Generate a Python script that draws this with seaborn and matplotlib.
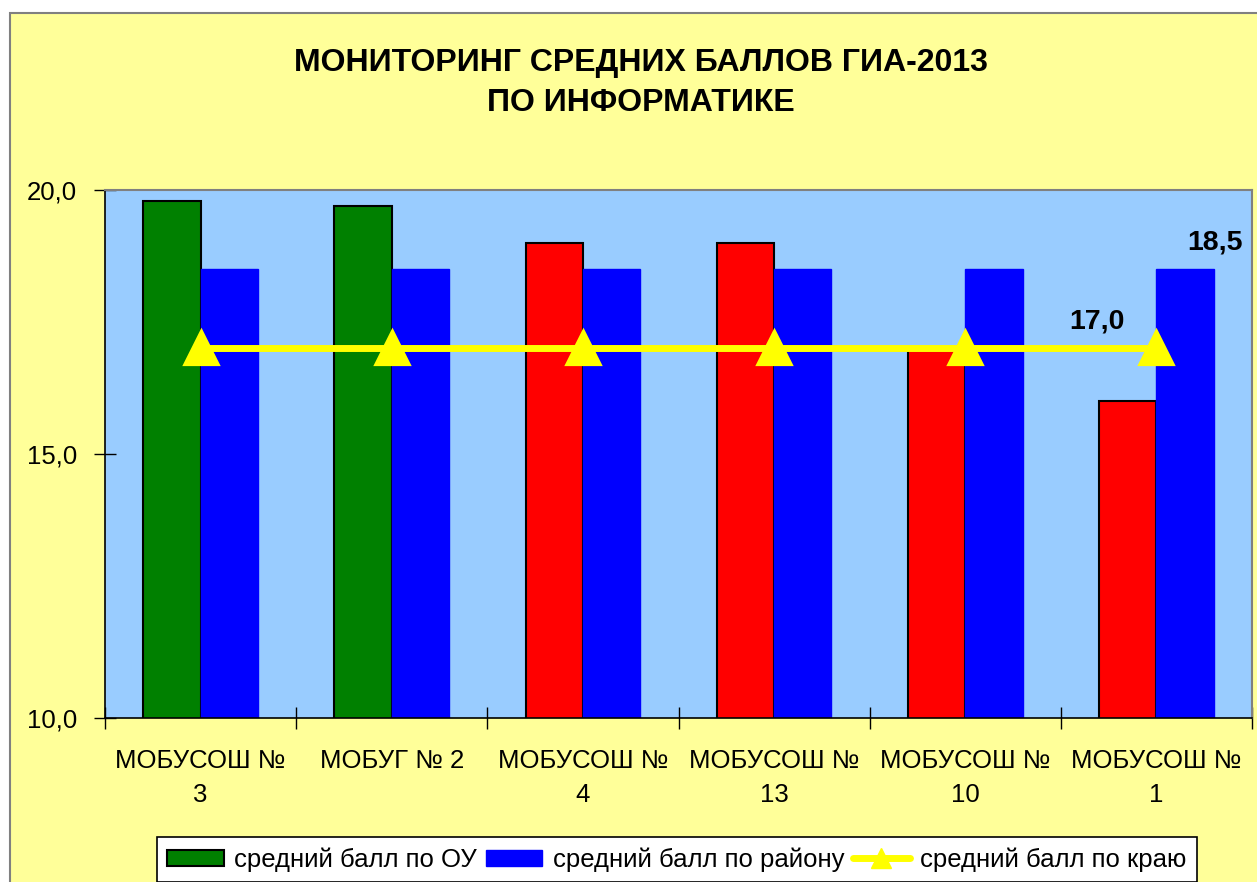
import matplotlib
matplotlib.use("Agg")
import matplotlib.pyplot as plt
from matplotlib.patches import Rectangle, Patch
from matplotlib.lines import Line2D
import numpy as np
import pandas as pd
import seaborn as sns

# Data
schools = ["МОБУСОШ №\n3", "МОБУГ № 2", "МОБУСОШ №\n4", "МОБУСОШ №\n13",
           "МОБУСОШ №\n10", "МОБУСОШ №\n1"]
school_scores = [19.8, 19.7, 19.0, 19.0, 17.0, 16.0]
district_scores = [18.5, 18.5, 18.5, 18.5, 18.5, 18.5]
region_scores = [17.0, 17.0, 17.0, 17.0, 17.0, 17.0]
school_colors = ["#008000", "#008000", "#FF0000", "#FF0000", "#FF0000", "#FF0000"]
series_names = ["средний балл по ОУ", "средний балл по району", "средний балл по краю"]
y_ticks = [10.0, 15.0, 20.0]

sns.set_theme(style="white")
plt.rcParams["font.family"] = ["Liberation Sans", "DejaVu Sans"]
plt.rcParams["text.color"] = "black"
plt.rcParams["xtick.color"] = "black"
plt.rcParams["ytick.color"] = "black"
plt.rcParams["axes.labelcolor"] = "black"

W, H = 1257, 882
fig = plt.figure(figsize=(W / 100, H / 100), dpi=100, facecolor="white")

# Chart area background with grey frame
fig.patches.append(Rectangle((10 / W, -0.01), 1 - 10 / W + 0.01, 1 - 13 / H + 0.01,
                             transform=fig.transFigure, facecolor="#FFFF99",
                             edgecolor="#808080", linewidth=1.5, zorder=-10))

ax = fig.add_axes([105 / W, 1 - 718 / H, (1252 - 105) / W, (718 - 190) / H])
ax.set_facecolor("#99CCFF")

df = pd.DataFrame({
    "school": schools * 2,
    "value": school_scores + district_scores,
    "series": [series_names[0]] * 6 + [series_names[1]] * 6,
})
sns.barplot(data=df, x="school", y="value", hue="series", order=schools,
            hue_order=series_names[:2], palette=["#008000", "#0000FF"],
            width=0.6, gap=0, legend=False, ax=ax, errorbar=None, saturation=1)

for bar, c in zip(ax.containers[0], school_colors):
    bar.set_facecolor(c)
    bar.set_edgecolor("black")
    bar.set_linewidth(1.5)
for bar in ax.containers[1]:
    bar.set_facecolor("#0000FF")
    bar.set_edgecolor("#0000FF")
    bar.set_linewidth(1.0)

dfl = pd.DataFrame({"school": schools, "value": region_scores})
sns.pointplot(data=dfl, x="school", y="value", order=schools, color="#FFFF00",
              marker="^", markersize=22, linewidth=5, errorbar=None, ax=ax)
for ln in ax.lines:
    ln.set_zorder(5)
    ln.set_markeredgecolor("#FFFF00")

ax.set_xlim(-0.5, 5.5)
ax.set_ylim(10, 20)
ax.set_yticks(y_ticks)
ax.set_yticklabels([f"{v:.1f}".replace(".", ",") for v in y_ticks], fontsize=18.5)
ax.set_xticks(range(6))
ax.set_xticklabels(schools, fontsize=18.5, linespacing=1.55)
ax.set_xticks(np.arange(-0.5, 6, 1), minor=True)
ax.tick_params(axis="x", which="major", length=0, pad=22, colors="black")
ax.tick_params(axis="x", which="minor", direction="inout", length=16, width=1, color="black", bottom=True)
ax.tick_params(axis="y", direction="inout", length=16, width=1, pad=12, color="black", left=True)
ax.set_xlabel("")
ax.set_ylabel("")
for s in ["left", "bottom"]:
    ax.spines[s].set_color("black")
    ax.spines[s].set_linewidth(1.2)
for s in ["top", "right"]:
    ax.spines[s].set_color("#808080")
    ax.spines[s].set_linewidth(1.5)

# Value labels on the last category
ax.annotate(f"{district_scores[-1]:.1f}".replace(".", ","), xy=(5 + 0.15, district_scores[-1]),
            xytext=(30, 27), textcoords="offset pixels", ha="center", va="center",
            fontsize=20.5, fontweight="bold", color="black")
ax.annotate(f"{region_scores[-1]:.1f}".replace(".", ","), xy=(5, region_scores[-1]),
            xytext=(-59, 27), textcoords="offset pixels", ha="center", va="center",
            fontsize=20.5, fontweight="bold", color="black")

fig.text(641 / W, 1 - 83 / H, "МОНИТОРИНГ СРЕДНИХ БАЛЛОВ ГИА-2013\nПО ИНФОРМАТИКЕ",
         ha="center", va="center", fontsize=23, fontweight="bold", linespacing=1.4,
         color="black")

handles = [
    Patch(facecolor="#008000", edgecolor="black", linewidth=1.5),
    Patch(facecolor="#0000FF", edgecolor="#0000FF"),
    Line2D([], [], color="#FFFF00", linewidth=5, marker="^", markersize=14,
           markeredgecolor="#FFFF00"),
]
leg = fig.legend(handles, series_names, loc="upper left",
                 bbox_to_anchor=(157 / W, 1 - 837 / H), ncol=3, fontsize=18.5,
                 frameon=True, fancybox=False, framealpha=1, handlelength=2.2,
                 handleheight=0.6, handletextpad=0.4, columnspacing=0.35,
                 borderpad=0.4, borderaxespad=0)
leg.get_frame().set_edgecolor("black")
leg.get_frame().set_facecolor("white")
leg.get_frame().set_linewidth(1.2)

fig.savefig("out.png", dpi=100, facecolor="white")
